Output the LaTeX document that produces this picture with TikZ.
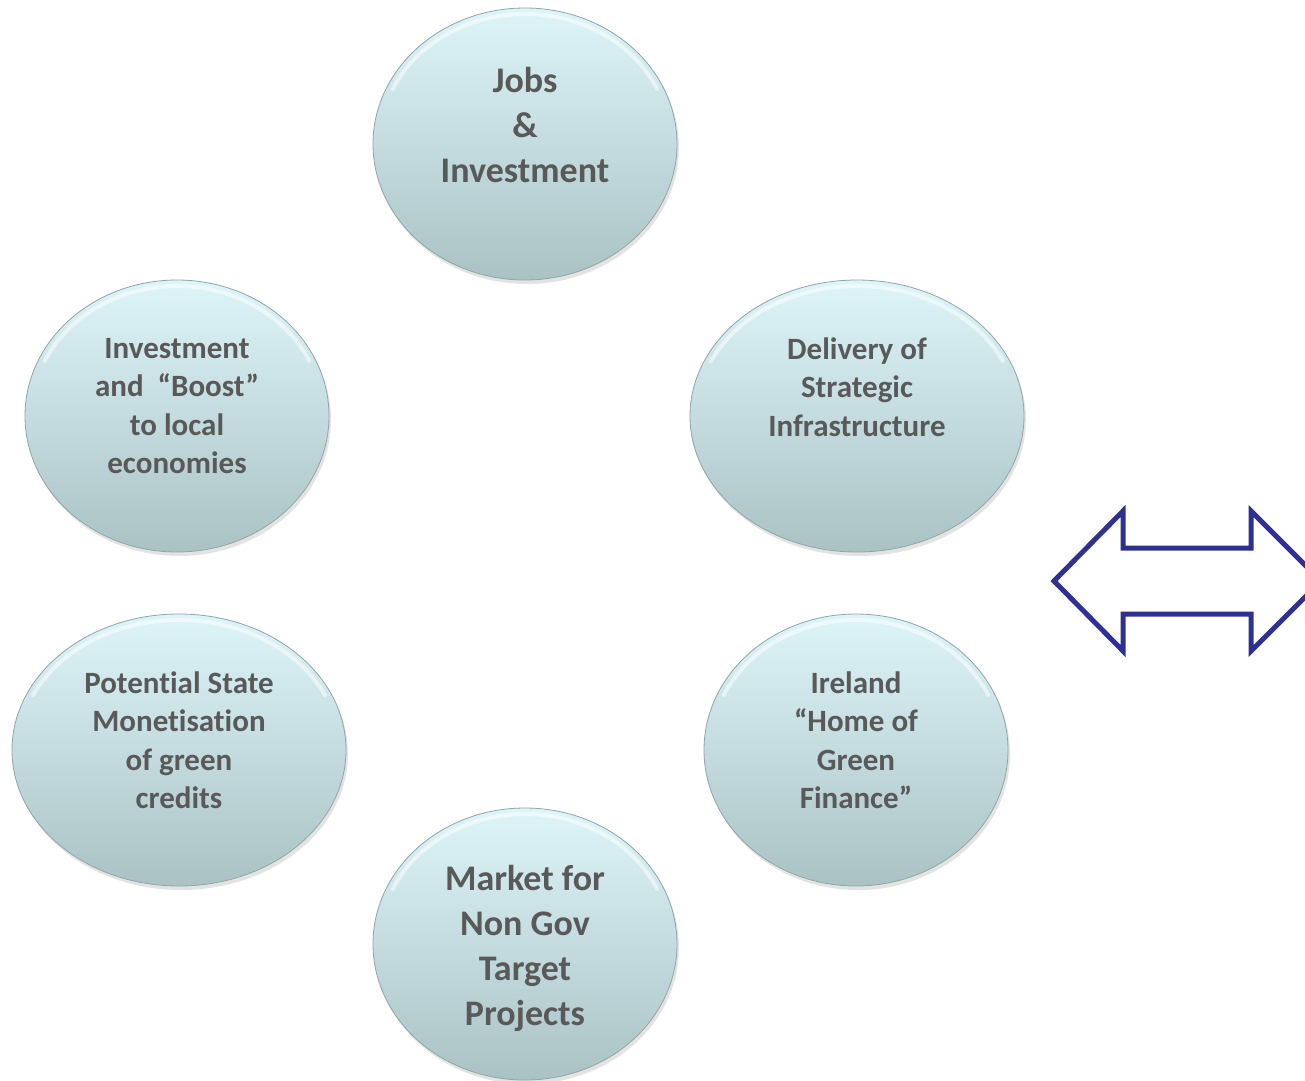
\documentclass[tikz,border=0pt]{standalone}
\usepackage{fontspec}
\setmainfont{Carlito}[Ligatures=NoCommon]
\usetikzlibrary{shapes.geometric,shadows}
\definecolor{bubtop}{HTML}{DDF5F9}
\definecolor{bubbot}{HTML}{ABC2C5}
\definecolor{bubedge}{HTML}{8FA5A8}
\definecolor{txt}{HTML}{595959}
\definecolor{navy}{HTML}{2E3192}
\tikzset{
  bubble/.style={ellipse, minimum width=#1, minimum height=272pt, inner sep=0pt,
    top color=bubtop, bottom color=bubbot, draw=bubedge, line width=0.8pt,
    drop shadow={opacity=0.22, shadow xshift=2pt, shadow yshift=-4pt}},
  bubble/.default=304pt,
  bigtext/.style={text=txt, align=center, font=\fontsize{36}{45}\selectfont\bfseries},
  smalltext/.style={text=txt, align=center, font=\fontsize{31}{38.5}\selectfont\bfseries},
  shine/.style={white, line width=4pt, opacity=0.5, line cap=round},
  twoway/.style={draw=navy, line width=5pt, line join=miter, fill=none}
}
\begin{document}
\begin{tikzpicture}[x=1pt, y=-1pt]
  \useasboundingbox (0,0) rectangle (1305,1080);
  \clip (0,0) rectangle (1305,1080);

  % bubbles
  \node[bubble] (jobs) at (525,144) {};
  \node[bubble] (boost) at (177,416) {};
  \node[bubble=334pt] (deliv) at (857,416) {};
  \node[bubble=334pt] (monet) at (179,750) {};
  \node[bubble] (irl) at (856,750) {};
  \node[bubble] (market) at (525,944) {};

  % soft highlight just inside the upper rim of each bubble
  \foreach \b/\rx in {jobs/152, boost/152, deliv/167, monet/167, irl/152, market/152}{
    \draw[shine] (\b.center) ++(205:{\rx-6} and 130)
      arc[start angle=205, end angle=335, x radius={\rx-6}, y radius=130];
  }

  % labels
  \node[bigtext] (jobs-t) at ([yshift=19pt]jobs.center) {Jobs\\\&\\Investment};
  \node[smalltext] (boost-t) at ([yshift=10pt]boost.center) {Investment\\and\ \ “Boost”\\to local\\economies};
  \node[smalltext] (deliv-t) at ([yshift=29pt]deliv.center) {Delivery of\\Strategic\\Infrastructure};
  \node[smalltext] (monet-t) at ([yshift=10pt]monet.center) {Potential State\\Monetisation\\of green\\credits};
  \node[smalltext] (irl-t) at ([yshift=10pt]irl.center) {Ireland\\“Home of\\Green\\Finance”};
  \node[bigtext] (market-t) at ([yshift=-4pt]market.center) {Market for\\Non Gov\\Target\\Projects};

  % double-headed block arrow
  \draw[twoway] (1054,581) -- (1123,511) -- (1123,548) -- (1251,548) -- (1251,511)
    -- (1321,581) -- (1251,651) -- (1251,614) -- (1123,614) -- (1123,651) -- cycle;
\end{tikzpicture}
\end{document}
